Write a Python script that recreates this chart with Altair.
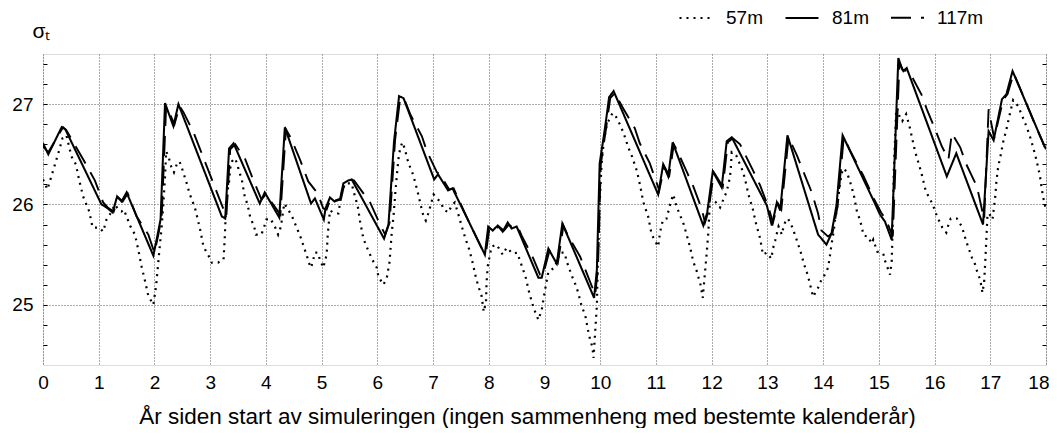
import altair as alt
import pandas as pd

series_names = ["57m", "81m", "117m"]

x57 = [0.0,0.08,0.215,0.275,0.35,0.42,0.51,0.59,0.65,0.72,0.83,0.89,1.01,1.08,1.14,1.21,1.29,1.35,1.41,1.45,1.57,1.65,1.71,1.77,1.83,1.89,1.98,2.03,2.09,2.13,2.16,2.19,2.21,2.25,2.30,2.35,2.40,2.45,2.50,2.58,2.63,2.73,2.82,2.88,2.97,3.03,3.14,3.24,3.26,3.28,3.31,3.34,3.36,3.39,3.45,3.49,3.57,3.62,3.67,3.72,3.79,3.82,3.92,3.97,4.01,4.08,4.16,4.22,4.27,4.33,4.40,4.47,4.53,4.64,4.69,4.73,4.77,4.81,4.85,4.88,4.93,4.97,5.03,5.09,5.11,5.15,5.21,5.30,5.36,5.42,5.54,5.57,5.65,5.69,5.75,5.83,5.91,5.99,6.02,6.11,6.17,6.22,6.26,6.29,6.32,6.35,6.38,6.41,6.45,6.49,6.54,6.59,6.64,6.68,6.74,6.78,6.83,6.87,6.92,7.01,7.09,7.15,7.19,7.28,7.33,7.39,7.45,7.51,7.57,7.65,7.71,7.77,7.81,7.87,7.91,7.95,7.96,7.98,8.00,8.05,8.14,8.25,8.32,8.43,8.51,8.61,8.66,8.73,8.81,8.89,8.95,9.01,9.07,9.18,9.28,9.36,9.40,9.49,9.55,9.60,9.67,9.73,9.78,9.82,9.86,9.88,9.90,9.92,9.94,9.95,9.96,9.98,9.99,10.01,10.03,10.07,10.12,10.22,10.27,10.36,10.42,10.51,10.57,10.66,10.72,10.77,10.86,10.92,10.97,11.04,11.07,11.10,11.13,11.19,11.24,11.28,11.31,11.37,11.45,11.50,11.57,11.61,11.67,11.73,11.77,11.80,11.84,11.88,11.91,11.94,11.97,12.01,12.08,12.15,12.27,12.32,12.34,12.36,12.44,12.50,12.56,12.60,12.66,12.74,12.80,12.84,12.87,12.92,12.99,13.07,13.10,13.14,13.17,13.20,13.26,13.29,13.33,13.37,13.45,13.53,13.59,13.66,13.71,13.75,13.82,13.91,13.97,14.03,14.09,14.12,14.15,14.19,14.21,14.24,14.27,14.30,14.33,14.36,14.42,14.47,14.51,14.56,14.61,14.66,14.73,14.81,14.87,14.90,14.97,15.08,15.11,15.17,15.20,15.23,15.24,15.25,15.26,15.27,15.29,15.31,15.33,15.38,15.42,15.49,15.55,15.59,15.65,15.73,15.77,15.83,15.89,15.97,16.01,16.07,16.14,16.21,16.25,16.29,16.40,16.49,16.57,16.62,16.67,16.73,16.77,16.82,16.86,16.89,16.91,16.93,16.95,16.98,17.04,17.09,17.11,17.14,17.19,17.23,17.29,17.35,17.41,17.50,17.56,17.62,17.70,17.77,17.83,17.89,17.92,17.95,18.0]
y57 = [26.25,26.15,26.40,26.51,26.66,26.69,26.48,26.40,26.24,26.08,25.93,25.77,25.77,25.73,25.85,25.91,26.00,25.95,25.93,25.95,25.78,25.70,25.55,25.38,25.24,25.09,25.00,25.19,25.55,25.78,26.01,26.28,26.53,26.48,26.38,26.32,26.40,26.43,26.35,26.21,26.11,25.96,25.75,25.58,25.49,25.42,25.42,25.45,25.65,25.90,26.13,26.23,26.36,26.43,26.46,26.39,26.24,26.08,26.00,25.87,25.78,25.70,25.70,25.78,25.85,25.86,25.78,25.70,25.78,26.01,25.95,25.88,25.80,25.65,25.56,25.50,25.42,25.37,25.45,25.52,25.52,25.45,25.37,25.50,25.70,25.94,25.92,25.91,26.11,26.21,26.21,26.14,25.98,25.83,25.66,25.55,25.45,25.37,25.28,25.20,25.27,25.43,25.73,25.88,26.10,26.29,26.46,26.56,26.62,26.56,26.45,26.37,26.30,26.22,26.09,25.99,25.88,25.84,25.92,26.10,26.05,26.01,25.95,25.92,25.99,26.02,25.91,25.79,25.68,25.55,25.42,25.27,25.19,25.09,24.93,25.03,25.22,25.38,25.44,25.58,25.60,25.50,25.57,25.51,25.52,25.36,25.28,25.11,24.96,24.85,24.95,25.15,25.33,25.37,25.52,25.52,25.43,25.29,25.21,25.13,24.98,24.90,24.75,24.65,24.58,24.47,24.65,24.82,24.99,25.25,25.52,25.78,26.01,26.25,26.45,26.65,26.80,26.91,26.89,26.79,26.71,26.56,26.48,26.33,26.18,26.03,25.88,25.71,25.65,25.58,25.71,25.79,25.85,25.86,25.97,26.05,26.10,25.98,25.87,25.80,25.66,25.58,25.43,25.34,25.26,25.20,25.07,25.32,25.51,25.72,26.05,26.05,26.02,25.97,26.13,26.25,26.33,26.52,26.49,26.41,26.33,26.25,26.10,25.95,25.80,25.72,25.66,25.50,25.52,25.46,25.56,25.64,25.71,25.78,25.70,25.78,25.84,25.86,25.77,25.64,25.54,25.40,25.32,25.24,25.08,25.17,25.25,25.30,25.37,25.48,25.60,25.73,25.83,25.93,26.06,26.19,26.30,26.36,26.33,26.25,26.18,26.07,25.92,25.85,25.69,25.68,25.61,25.65,25.53,25.51,25.44,25.35,25.30,25.43,25.59,25.83,26.10,26.36,26.63,26.93,26.96,26.86,26.83,26.90,26.78,26.68,26.53,26.38,26.30,26.16,26.08,26.00,25.93,25.85,25.77,25.72,25.80,25.86,25.86,25.78,25.63,25.55,25.47,25.40,25.32,25.25,25.12,25.23,25.43,25.66,25.90,25.91,25.85,26.08,26.23,26.37,26.50,26.62,26.75,26.90,27.04,26.98,26.90,26.82,26.70,26.57,26.44,26.29,26.17,26.07,25.95]

x81 = [0.0,0.095,0.335,0.40,1.05,1.14,1.25,1.33,1.41,1.50,1.98,2.05,2.11,2.19,2.34,2.43,3.21,3.27,3.34,3.42,3.89,3.98,4.24,4.34,4.81,4.88,5.04,5.07,5.15,5.23,5.33,5.39,5.48,5.54,6.12,6.20,6.30,6.39,6.47,7.02,7.09,7.27,7.35,7.93,7.99,8.07,8.16,8.25,8.34,8.41,8.50,8.89,8.95,9.07,9.22,9.32,9.89,9.94,9.99,10.08,10.16,10.24,11.04,11.13,11.22,11.30,11.85,11.92,12.02,12.18,12.27,12.36,12.99,13.08,13.17,13.23,13.36,13.91,14.06,14.15,14.24,14.35,14.93,15.02,15.11,15.23,15.35,15.41,15.44,15.50,16.22,16.39,16.87,16.97,17.06,17.21,17.29,17.40,17.98]
y81 = [26.61,26.50,26.77,26.75,26.00,25.97,25.92,26.08,26.03,26.12,25.49,25.68,25.85,27.01,26.78,27.00,25.88,25.86,26.56,26.61,26.01,26.12,25.87,26.77,26.01,26.06,25.85,25.96,26.07,26.03,26.05,26.21,26.24,26.25,25.66,25.80,26.63,27.08,27.06,26.25,26.30,26.14,26.16,25.50,25.78,25.74,25.79,25.73,25.82,25.76,25.78,25.27,25.27,25.56,25.41,25.81,25.07,25.35,26.41,26.74,27.07,27.13,26.10,26.40,26.28,26.62,25.79,25.92,26.33,26.17,26.63,26.67,25.99,25.79,26.02,25.94,26.69,25.70,25.60,25.71,25.99,26.69,26.01,25.90,25.83,25.65,27.46,27.36,27.33,27.36,26.28,26.51,25.80,26.73,26.64,27.05,27.10,27.33,26.57]

x117 = [0.0,0.095,0.36,0.42,0.72,0.93,1.08,1.16,1.27,1.35,1.43,1.52,1.68,1.89,2.00,2.07,2.13,2.21,2.36,2.45,2.52,2.70,2.82,3.03,3.29,3.36,3.45,3.63,3.77,3.92,4.00,4.26,4.36,4.45,4.61,4.76,4.93,5.03,5.09,5.17,5.25,5.35,5.41,5.50,5.58,5.87,6.05,6.14,6.22,6.32,6.41,6.49,6.59,6.80,6.89,7.07,7.12,7.29,7.37,7.60,7.90,7.95,8.01,8.09,8.18,8.27,8.36,8.43,8.52,8.59,8.80,8.92,8.97,9.09,9.24,9.34,9.43,9.64,9.91,9.96,10.01,10.10,10.18,10.26,10.41,10.62,10.71,10.89,11.06,11.15,11.24,11.32,11.37,11.55,11.67,11.82,11.88,11.94,12.04,12.20,12.29,12.38,12.51,12.75,12.87,13.02,13.10,13.19,13.25,13.38,13.53,13.68,13.79,13.91,13.97,14.09,14.17,14.26,14.37,14.50,14.72,14.90,15.04,15.13,15.25,15.37,15.43,15.52,15.56,15.77,15.86,16.01,16.13,16.25,16.31,16.46,16.57,16.76,16.89,16.97,17.07,17.23,17.31,17.42,17.60,17.80,18.0]
y117 = [26.58,26.52,26.77,26.74,26.45,26.24,26.02,25.97,25.93,26.07,26.03,26.11,25.88,25.70,25.52,25.70,25.88,26.98,26.80,26.98,26.92,26.72,26.55,26.25,25.88,26.55,26.60,26.45,26.25,26.05,26.10,25.90,26.75,26.66,26.45,26.23,26.11,25.96,25.95,26.07,26.04,26.06,26.21,26.25,26.24,26.02,25.80,25.70,25.82,26.65,27.06,27.04,26.90,26.68,26.53,26.32,26.30,26.15,26.16,25.88,25.53,25.52,25.76,25.74,25.78,25.74,25.80,25.77,25.78,25.69,25.46,25.30,25.29,25.54,25.42,25.79,25.68,25.48,25.10,25.37,26.40,26.74,27.06,27.11,26.96,26.76,26.61,26.41,26.14,26.38,26.29,26.60,26.55,26.33,26.18,25.96,25.82,25.93,26.32,26.18,26.62,26.66,26.60,26.33,26.19,25.97,25.82,26.01,25.95,26.67,26.49,26.28,26.13,25.91,25.74,25.68,25.72,25.98,26.67,26.52,26.29,26.07,25.92,25.85,25.68,27.42,27.34,27.33,27.31,27.09,26.95,26.75,26.58,26.45,26.71,26.57,26.40,26.18,25.85,26.95,26.66,27.04,27.10,27.31,27.07,26.80,26.55]

x_ticks = list(range(0, 19))
y_minor = [round(24.6 + 0.2 * i, 1) for i in range(15)]

rows = []
for name, xs, ys in [("57m", x57, y57), ("81m", x81, y81), ("117m", x117, y117)]:
    for i, (a, b) in enumerate(zip(xs, ys)):
        rows.append({"serie": name, "t": a, "sigma": b, "i": i})
df = pd.DataFrame(rows)

FONT = "Liberation Sans"
xdom = [0, 18]
ydom = [24.4, 27.5]

dash_scale = alt.Scale(domain=series_names, range=[[2, 5], [1, 0], [20, 10]])
width_scale = alt.Scale(domain=series_names, range=[2.2, 1.9, 1.0])

legend = alt.Legend(
    orient="none", legendX=635, legendY=-54, direction="horizontal", title=None,
    symbolType="stroke", symbolSize=1089, symbolStrokeWidth=1.4,
    symbolStrokeColor="black", labelFontSize=19, labelFont=FONT,
    labelOffset=12, columnPadding=18, padding=0, labelColor="black",
)

is_int = "abs(datum.value - round(datum.value)) < 0.01"

xaxis = alt.Axis(
    values=x_ticks, format="d", labelFontSize=19, labelFont=FONT, labelColor="black",
    ticks=False, domain=False, grid=True, gridColor="#555", gridDash=[1, 2],
    gridWidth=1, labelPadding=8, labelFlush=False,
    labelAlign={"condition": {"test": "datum.value == 18", "value": "right"}, "value": "center"},
    labelOffset={"condition": {"test": "datum.value == 18", "value": 3}, "value": 0},
    title="År siden start av simuleringen (ingen sammenheng med bestemte kalenderår)",
    titleFont=FONT, titleFontSize=22.5, titleFontWeight="normal", titleColor="black",
    titleX=484, titleY=58, titleAlign="center", titleBaseline="alphabetic",
)

yaxis_left = alt.Axis(
    values=y_minor,
    labelExpr=f"{is_int} ? format(datum.value, 'd') : ''",
    labelFontSize=19, labelFont=FONT, labelColor="black",
    tickSize=4, tickColor="black", tickWidth=1, offset=-4, domain=False,
    grid=True, gridColor="#555", gridDash=[1, 2], gridWidth=1,
    gridOpacity={"condition": {"test": is_int, "value": 1}, "value": 0},
    labelPadding=10,
    title="σₜ", titleFont=FONT, titleFontSize=21, titleFontWeight="normal",
    titleColor="black", titleAngle=0, titleX=-15, titleY=-17,
    titleAlign="left", titleBaseline="alphabetic",
)

yaxis_right = alt.Axis(
    orient="right", values=y_minor, labels=False, tickSize=4, tickColor="black",
    tickWidth=1, offset=-4, domain=False, grid=False, title=None,
)

base = alt.Chart(df).mark_line(color="black", strokeCap="butt", clip=True)

layer_a = base.transform_filter(alt.datum.serie != "117m").encode(
    x=alt.X("t:Q", scale=alt.Scale(domain=xdom, nice=False, zero=False), axis=xaxis),
    y=alt.Y("sigma:Q", scale=alt.Scale(domain=ydom, nice=False, zero=False), axis=yaxis_left),
    strokeDash=alt.StrokeDash("serie:N", scale=dash_scale, legend=legend),
    strokeWidth=alt.StrokeWidth("serie:N", scale=width_scale, legend=None),
    detail="serie:N",
    order="i:Q",
)

layer_b = base.transform_filter(alt.datum.serie == "117m").encode(
    x=alt.X("t:Q", scale=alt.Scale(domain=xdom, nice=False, zero=False), axis=xaxis),
    y=alt.Y("sigma:Q", scale=alt.Scale(domain=ydom, nice=False, zero=False), axis=yaxis_right),
    strokeDash=alt.StrokeDash("serie:N", scale=dash_scale, legend=legend),
    strokeWidth=alt.StrokeWidth("serie:N", scale=width_scale, legend=None),
    detail="serie:N",
    order="i:Q",
)

chart = alt.layer(layer_a, layer_b).resolve_axis(y="independent").properties(
    width=1003, height=311,
    autosize=alt.AutoSizeParams(type="none"),
    padding={"left": 35, "top": 46, "right": 3, "bottom": 63},
).configure_view(stroke="black", strokeWidth=1.6).configure(background="white")

chart.save("out.html", embed_options={"renderer": "svg", "actions": False})
